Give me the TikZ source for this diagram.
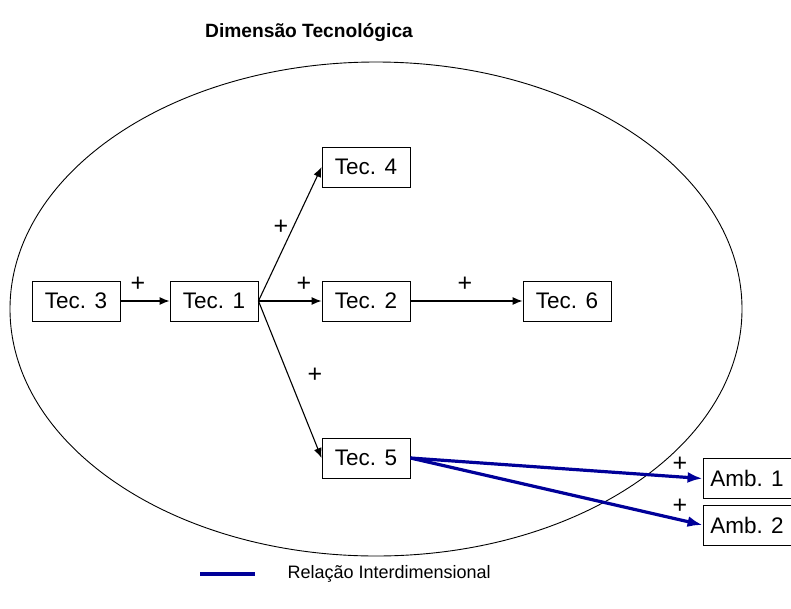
\documentclass[tikz,border=0pt]{standalone}
\usepackage{fontspec}
\setmainfont{Liberation Sans}
\usetikzlibrary{arrows.meta,positioning}
\definecolor{relblue}{RGB}{0,0,153}

\begin{document}
\begin{tikzpicture}[x=1pt, y=-1pt, every node/.style={font=\fontsize{22.5}{26}\selectfont}]
\tikzstyle{tec}=[draw, line width=0.9pt, minimum height=40pt, minimum width=88pt, inner sep=0pt, align=center]
\tikzstyle{rel}=[-{Latex[length=10pt,width=8pt]}, line width=1.1pt]
\tikzstyle{inter}=[-{Latex[length=15pt,width=11pt]}, relblue, line width=3.2pt]
\tikzstyle{plus}=[inner sep=0pt, font=\fontsize{25}{28}\selectfont]
\useasboundingbox (0,0) rectangle (791,608);
\node[font=\fontsize{19.2}{22}\selectfont\bfseries] (title) at (309,32) {Dimensão Tecnológica};
\draw[line width=0.9pt] (376,309) ellipse [x radius=366, y radius=247];
% technological nodes
\node[tec] (t3) at (76,301) {Tec. 3};
\node[tec] (t1) at (214,301) {Tec. 1};
\node[tec] (t4) at (366,167) {Tec. 4};
\node[tec] (t2) at (366,301) {Tec. 2};
\node[tec] (t6) at (567,301) {Tec. 6};
\node[tec] (t5) at (366,458) {Tec. 5};
% environmental nodes
\node[tec] (a1) at (747,478.5) {Amb. 1};
\node[tec] (a2) at (747,525) {Amb. 2};
\draw[rel] (t3) -- (t1);
\draw[rel] (t1.east) -- (t4.west);
\draw[rel] (t1) -- (t2);
\draw[rel] (t2) -- (t6);
\draw[rel] (t1.east) -- (t5.west);
\draw[inter] (t5.east) -- (a1.west);
\draw[inter] (t5.east) -- (a2.west);
\node[plus] (p31) at (138,284) {+};
\node[plus] (p14) at (281,227) {+};
\node[plus] (p12) at (304,284) {+};
\node[plus] (p26) at (465,284) {+};
\node[plus] (p15) at (315,375) {+};
\node[plus] (pa1) at (680,464) {+};
\node[plus] (pa2) at (680,506) {+};
% legend
\coordinate (lgA) at (200,574);
\coordinate (lgB) at (255,574);
\draw[relblue, line width=3.2pt] (lgA) -- (lgB);
\node[anchor=west, font=\fontsize{18}{22}\selectfont] (lgtext) at (284,574) {Relação Interdimensional};
\end{tikzpicture}
\end{document}
